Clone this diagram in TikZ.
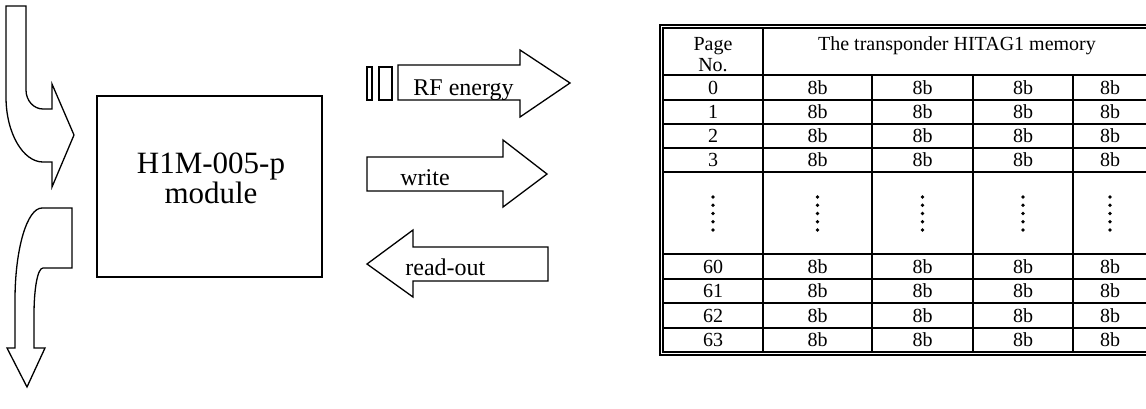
\documentclass[tikz,border=0pt]{standalone}
\usepackage{fontspec}
\setmainfont{Liberation Serif}
\tikzset{
    lab/.style={
        font=\fontsize{12}{14}\selectfont, anchor=base west, inner sep=0pt
    }
}

\begin{document}
\begin{tikzpicture}[x=0.5pt,y=-0.5pt, line cap=butt, line join=miter]

% block + table styles
\tikzset{
  blk/.style={draw=black, line width=0.65pt, fill=white},
  modbox/.style={draw=black, line width=0.65pt, minimum width=112.5pt, minimum height=90.5pt, inner sep=0pt},
  modlab/.style={font=\fontsize{15.5}{13.5}\selectfont, align=center, inner sep=0pt},
  tbl/.style={draw=black, line width=0.8pt},
  cell/.style={font=\fontsize{10}{10.5}\selectfont, inner sep=0pt},
  hcell/.style={font=\fontsize{10}{10.5}\selectfont, inner sep=0pt, anchor=base},
}

  \useasboundingbox (0,0) rectangle (1146,408);

  % module
  \node[modbox] (mod) at (209.5,186.5) {};
  \node[modlab] (modtxt) at (211,178) {H1M-005-p\\module};

  % bent arrow in (top left)
  \draw[blk] (6,6) -- (26,6) -- (26,90)
    .. controls (26,100.5) and (33.6,109) .. (43,109) -- (52,109) -- (52,84)
    -- (74,135) -- (52,187) -- (52,162) -- (43,162)
    .. controls (23,162) and (6,133) .. (6,97) -- cycle;

  % bent arrow out (bottom left)
  \draw[blk] (42,208) -- (72,208) -- (72,268) -- (43,268)
    .. controls (37.5,268) and (34,289) .. (34,315) -- (34,348) -- (45,348)
    -- (27,387) -- (7,348) -- (15,348) -- (15,300)
    .. controls (15,249) and (27,208) .. (42,208) -- cycle;

  % RF energy arrow
  \draw[blk] (367,67) rectangle (372,100);
  \draw[blk] (379,67) rectangle (392,100);
  \draw[blk] (398,65) -- (520,65) -- (520,50) -- (570,83) -- (520,117) -- (520,100) -- (398,100) -- cycle;
  \begin{scope}
    \clip (398,65) rectangle (520,99);
    \node[lab] (rf) at (413,95) {RF energy};
  \end{scope}

  % write arrow
  \draw[blk] (367,157) -- (503,157) -- (503,140) -- (547,174) -- (503,207) -- (503,191) -- (367,191) -- cycle;
  \node[lab] (wr) at (400,185) {write};

  % read-out arrow
  \draw[blk] (548,247) -- (413,247) -- (413,230) -- (367,264) -- (413,297) -- (413,281) -- (548,281) -- cycle;
  \node[lab] (rd) at (405,275) {read-out};

  % table frame (double)
  \draw[tbl] (660,25) rectangle (1153,355);
  \draw[tbl] (663,28) rectangle (1150,352);

  % table rules
  \foreach \y in {75,100,124,148,172,254,279,303,328}
    \draw[tbl] (663,\y) -- (1150,\y);
  \draw[tbl] (763,28) -- (763,352);
  \foreach \x in {872,973,1073}
    \draw[tbl] (\x,75) -- (\x,352);

  % header
  \node[hcell] (hpage) at (713,50) {Page};
  \node[hcell] (hno) at (713,71) {No.};
  \node[hcell] (hmem) at (957,50) {The transponder HITAG1 memory};

  % rows
  \foreach \y/\p [count=\i] in {87.5/0,112/1,136/2,160/3,266.5/60,291/61,315.5/62,340/63} {
    \node[cell] (pg\i) at (713,\y) {\p};
    \foreach \x [count=\j] in {817.5,922.5,1023,1110}
      \node[cell] (b\i\j) at (\x,\y) {8b};
  }

  % vertical ellipses
  \foreach \x in {713,817.5,922.5,1023,1110}
    \foreach \y in {197,205.25,213.5,221.75,230}
      \fill (\x,\y) circle (1.9);

\end{tikzpicture}
\end{document}
